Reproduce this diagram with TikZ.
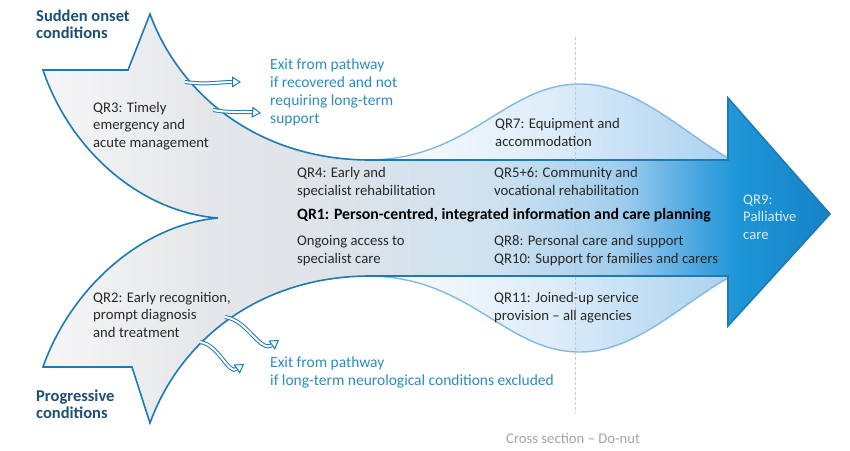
\documentclass[tikz,border=0pt]{standalone}
\usepackage{fontspec}
\setmainfont{Carlito}
\usetikzlibrary{arrows.meta}
\definecolor{outl}{RGB}{30,122,180}
\definecolor{bumpedge}{RGB}{130,185,225}
\definecolor{bodytext}{RGB}{40,40,40}
\definecolor{exittext}{RGB}{45,140,190}
\definecolor{headtext}{RGB}{28,78,118}
\definecolor{palltext}{RGB}{215,236,250}
\definecolor{crosstext}{RGB}{165,165,165}
\definecolor{dashcol}{RGB}{195,195,195}
\definecolor{bodyA}{RGB}{246,246,247}
\definecolor{bodyB}{RGB}{229,231,233}
\definecolor{bodyC}{RGB}{222,228,233}
\definecolor{bodyD}{RGB}{205,225,240}
\definecolor{bodyE}{RGB}{160,205,237}
\definecolor{bodyF}{RGB}{70,165,225}
\definecolor{bodyG}{RGB}{30,150,215}
\definecolor{bodyH}{RGB}{22,130,200}
\definecolor{bumpA}{RGB}{252,253,255}
\definecolor{bumpB}{RGB}{222,237,249}
\definecolor{bumpC}{RGB}{172,210,240}
\pgfdeclarehorizontalshading{bodyshade}{100bp}{color(0bp)=(bodyA); color(25bp)=(bodyA); color(35bp)=(bodyB); color(43bp)=(bodyC); color(54bp)=(bodyD); color(61.7bp)=(bodyE); color(66.7bp)=(bodyF); color(69bp)=(bodyG); color(75bp)=(bodyH); color(100bp)=(bodyH)}
\pgfdeclarehorizontalshading{bumpshade}{100bp}{color(0bp)=(bumpA); color(25bp)=(bumpA); color(50bp)=(bumpB); color(75bp)=(bumpC); color(100bp)=(bumpC)}
\def\upbumppath{(367,160) .. controls (470,160) and (505,84) .. (580,84) .. controls (635,84) and (680,130) .. (728,158) -- (728,160) -- cycle}
\def\lowbumppath{(367,276) .. controls (470,276) and (505,352) .. (580,352) .. controls (635,352) and (680,305) .. (728,278) -- (728,276) -- cycle}
\def\bodypath{(43,70) -- (128,70) -- (150,14) .. controls (180,96) and (260,160) .. (370,160) -- (728,160) -- (728,98) -- (830,214) -- (728,326) -- (728,276) -- (370,276) .. controls (260,276) and (180,340) .. (150,423) -- (132,367) -- (43,367) .. controls (70,290) and (140,225) .. (218,218) .. controls (140,212) and (70,150) .. (43,70) -- cycle}
\begin{document}
\begin{tikzpicture}[x=1pt,y=-1pt,
  txt/.style={anchor=base west, inner sep=0pt, align=left, font=\fontsize{14.7}{17.5}\selectfont, text=bodytext},
  exittxt/.style={txt, text=exittext, font=\fontsize{15.5}{18}\selectfont},
  headtxt/.style={txt, text=headtext, font=\fontsize{16.5}{17}\selectfont\bfseries},
  bumpline/.style={draw=bumpedge, line width=1.4pt},
  outline/.style={draw=outl, line width=1.6pt},
  exitarrow/.style={draw=outl, line width=1pt, double=white, double distance=2pt, -{Triangle[open, length=9pt, width=11pt, line width=1pt]}}
]
\useasboundingbox (0,0) rectangle (850,450);
\fill[white] (0,0) rectangle (850,450);
% bumps
\begin{scope}
  \clip \upbumppath;
  \shade[shading=bumpshade] (367,0) rectangle (728,450);
\end{scope}
\begin{scope}
  \clip \lowbumppath;
  \shade[shading=bumpshade] (367,0) rectangle (728,450);
\end{scope}
\draw[bumpline] (367,160) .. controls (470,160) and (505,84) .. (580,84) .. controls (635,84) and (680,130) .. (728,158);
\draw[bumpline] (367,276) .. controls (470,276) and (505,352) .. (580,352) .. controls (635,352) and (680,305) .. (728,278);
% main body
\begin{scope}
  \clip \bodypath;
  \shade[shading=bodyshade] (43,0) rectangle (830,450);
\end{scope}
\draw[outline] \bodypath;
% dashed section line
\coordinate (dtop) at (575,37);
\coordinate (dbot) at (575,413);
\draw[dashcol, line width=0.8pt, dash pattern=on 3pt off 2pt, opacity=0.85] (dtop) -- (dbot);
% exit arrows
\coordinate (e1s) at (185,82);
\coordinate (e1e) at (241,82);
\coordinate (e2s) at (213,110);
\coordinate (e2e) at (261,113);
\coordinate (e3s) at (225,317);
\coordinate (e3e) at (279,340);
\coordinate (e4s) at (200,342);
\coordinate (e4e) at (244,364);
\draw[exitarrow] (e1s) to[out=-8, in=180] (e1e);
\draw[exitarrow] (e2s) to[out=-10, in=175] (e2e);
\draw[exitarrow] (e3s) to[out=-8, in=215] (e3e);
\draw[exitarrow] (e4s) to[out=-8, in=215] (e4e);
% texts (y = baseline of the last line)
\node[headtxt] (sudden) at (36,38) {Sudden onset\\conditions};
\node[headtxt] (progressive) at (36,418) {Progressive\\conditions};
\node[txt] (qr3) at (93,147) {QR3: Timely\\emergency and\\acute management};
\node[txt] (qr2) at (93,337) {QR2: Early recognition,\\prompt diagnosis\\and treatment};
\node[exittxt] (exit1) at (270,123) {Exit from pathway\\if recovered and not\\requiring long-term\\support};
\node[exittxt] (exit2) at (270,385) {Exit from pathway\\if long-term neurological conditions excluded};
\node[txt] (qr7) at (495,146) {QR7: Equipment and\\accommodation};
\node[txt] (qr4) at (297,195) {QR4: Early and\\specialist rehabilitation};
\node[txt] (qr56) at (494,195) {QR5+6: Community and\\vocational rehabilitation};
\node[txt, font=\fontsize{15.8}{17}\selectfont\bfseries, text=black] (qr1) at (297,219) {QR1: Person-centred, integrated information and care planning};
\node[txt] (ongoing) at (297,263) {Ongoing access to\\specialist care};
\node[txt] (qr8) at (494,263) {QR8: Personal care and support\\QR10: Support for families and carers};
\node[txt] (qr11) at (494,320) {QR11: Joined-up service\\provision -- all agencies};
\node[txt, text=palltext] (qr9) at (743,239) {QR9:\\Palliative\\care};
\node[txt, text=crosstext] (cross) at (506,443) {Cross section -- Do-nut};
\end{tikzpicture}
\end{document}
